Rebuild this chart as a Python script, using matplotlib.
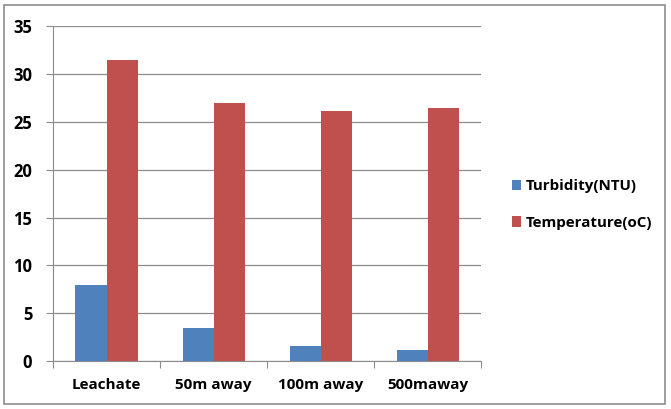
import numpy as np
import matplotlib
matplotlib.use("Agg")
from matplotlib import pyplot as plt
from matplotlib.patches import Rectangle

# site categories and measured values
sites = ["Leachate", "50m away", "100m away", "500maway"]
turbidity = [8.0, 3.5, 1.6, 1.2]
temperature = [31.5, 27.0, 26.1, 26.5]

blue = "#4F81BD"
red = "#C0504D"

plt.rcParams['font.family'] = ['Open Sans', 'DejaVu Sans']

fig = plt.figure(figsize=(6.71, 4.09), dpi=100)
# outer chart border
fig.patches.append(Rectangle((0.006, 0.012), 0.985, 0.976, transform=fig.transFigure,
                             fill=False, edgecolor="#8c8c8c", linewidth=1.2))

ax = fig.add_axes([0.079, 0.117, 0.638, 0.819])
x = np.arange(len(sites))
w = 0.29
ax.bar(x - w / 2, turbidity, w, color=blue, label="Turbidity(NTU)", zorder=3)
ax.bar(x + w / 2, temperature, w, color=red, label="Temperature(oC)", zorder=3)

ax.set_xlim(-0.5, len(sites) - 0.5)
ax.set_ylim(0, 35)
ax.set_yticks(range(0, 36, 5))
ax.yaxis.grid(True, color="#8c8c8c", linewidth=0.9, zorder=0)

# category ticks sit on the group boundaries
ax.set_xticks(np.arange(-0.5, len(sites)), minor=False)
ax.set_xticklabels([])
ax.set_xticks(x, minor=True)
ax.set_xticklabels(sites, minor=True, fontsize=11, fontweight="bold")
ax.tick_params(axis="x", which="minor", length=0, pad=12)
ax.tick_params(axis="x", which="major", length=5, color="#8c8c8c", direction="out")
ax.tick_params(axis="y", length=5, color="#8c8c8c", labelsize=12, pad=10)
for lab in ax.get_yticklabels():
    lab.set_fontweight("bold")

for s in ["top", "right"]:
    ax.spines[s].set_visible(False)
ax.spines["left"].set_color("#8c8c8c")
ax.spines["bottom"].set_color("#8c8c8c")

fig.legend(loc="center left", bbox_to_anchor=(0.742, 0.50), frameon=False,
           prop={"size": 10.9, "weight": "bold"}, handlelength=0.65, handleheight=0.65,
           handletextpad=0.3, labelspacing=1.5)

fig.savefig("out.png", dpi=100)
